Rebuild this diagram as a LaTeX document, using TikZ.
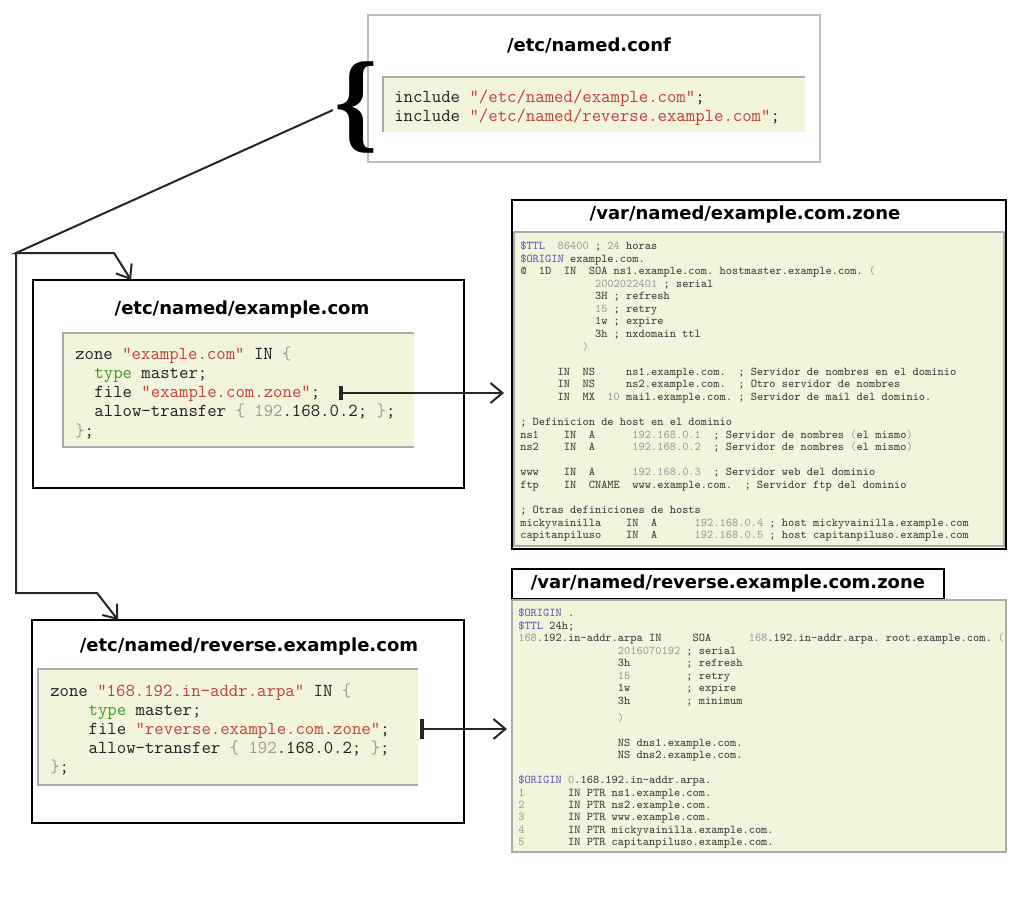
\documentclass[tikz,border=0pt]{standalone}
\usepackage{fontspec}
\newfontfamily\titlefont{DejaVu Sans}
\newfontfamily\bracefont{Liberation Serif}
\usetikzlibrary{arrows.meta}
\definecolor{codebg}{HTML}{F2F4DC}
\definecolor{codeedge}{HTML}{ABABAB}
\definecolor{confgray}{HTML}{BDBDBD}
\definecolor{strred}{HTML}{C23F36}
\definecolor{kwgreen}{HTML}{3C9A28}
\definecolor{numgray}{HTML}{9A9A9A}
\definecolor{varpurple}{HTML}{6656B0}
\definecolor{ztext}{HTML}{3C3C3C}
\definecolor{codeblack}{HTML}{1E1E1E}
\definecolor{linkgray}{HTML}{262626}
\newcommand\Rd[1]{\textcolor{strred}{#1}}
\newcommand\Gn[1]{\textcolor{kwgreen}{#1}}
\newcommand\Gy[1]{\textcolor{numgray}{#1}}
\newcommand\Pu[1]{\textcolor{varpurple}{#1}}
\newcommand\gap[1]{\hspace*{#1\dimexpr0.525em\relax}}
\tikzset{
  title/.style={font=\titlefont\bfseries\fontsize{13.5}{16}\selectfont, inner sep=0, anchor=center},
  bigcode/.style={font=\ttfamily\fontsize{13.7}{16}\selectfont, inner sep=0, anchor=base west, text=codeblack},
  zcode/.style={font=\ttfamily\fontsize{8.9}{10}\selectfont, inner sep=0, anchor=base west, text=ztext},
  blackbox/.style={draw=black, line width=1.1pt, inner sep=0, outer sep=0, anchor=north west},
  confbox/.style={draw=confgray, line width=1.1pt, inner sep=0, outer sep=0, anchor=north west},
  codefill/.style={fill=codebg},
  edge/.style={draw=codeedge, line width=0.8pt},
  link/.style={draw=linkgray, line width=1.5pt, line join=miter},
  tiptoo/.style={-{Straight Barb[length=9pt,width=14pt]}},
}
\begin{document}
\begin{tikzpicture}[x=0.75pt,y=-0.75pt]
\useasboundingbox (0,0) rectangle (1021,906);

% ---------- /etc/named.conf
\node[confbox, minimum width=339pt, minimum height=110.25pt] (conf) at (368,15) {};
\node[title] (conft) at (589,45) {/etc/named.conf};
\fill[codefill] (383,77) rectangle (805,132);
\draw[edge] (805,77) -- (383,77) -- (383,132);
\node[bigcode] (c0) at (394,103) {include~\Rd{"/etc/named/example.com"};};
\node[bigcode] (c1) at (394,122) {include~\Rd{"/etc/named/reverse.example.com"};};
\node[font=\bracefont\bfseries\fontsize{83}{83}\selectfont, inner sep=0] (brace) at (356,108) {\{};

% ---------- /etc/named/example.com
\node[blackbox, minimum width=323.25pt, minimum height=156pt] (ex) at (33,280) {};
\node[title] (ext) at (242,310) {/etc/named/example.com};
\fill[codefill] (63,333) rectangle (414,447);
\draw[edge] (414,333) -- (63,333) -- (63,447) -- (414,447);
\foreach \t [count=\i from 0] in {
  {zone~\Rd{"example.com"}~IN~\Gy{\{}},
  {\gap{2}\Gn{type}~master;},
  {\gap{2}file~\Rd{"example.com.zone"};},
  {\gap{2}allow-transfer~\Gy{\{}~\Gy{192}.168.0.2;~\Gy{\}};},
  {\Gy{\}};}}
  \node[bigcode] (e\i) at (75,{359+19.3*\i}) {\t};

% ---------- /etc/named/reverse.example.com
\node[blackbox, minimum width=324pt, minimum height=152.25pt] (rev) at (32,620) {};
\node[title] (revt) at (249,647) {/etc/named/reverse.example.com};
\fill[codefill] (38,669) rectangle (418,785);
\draw[edge] (418,669) -- (38,669) -- (38,785) -- (418,785);
\foreach \t [count=\i from 0] in {
  {zone~\Rd{"168.192.in-addr.arpa"}~IN~\Gy{\{}},
  {\gap{4}\Gn{type}~master;},
  {\gap{4}file~\Rd{"reverse.example.com.zone"};},
  {\gap{4}allow-transfer~\Gy{\{}~\Gy{192}.168.0.2;~\Gy{\}};},
  {\Gy{\}};}}
  \node[bigcode] (r\i) at (50,{696+19.2*\i}) {\t};

% ---------- /var/named/example.com.zone
\node[blackbox, minimum width=370.5pt, minimum height=261.75pt] (zone) at (512,200) {};
\node[title] (zonet) at (745,215) {/var/named/example.com.zone};
\fill[codefill] (514,232) rectangle (1004,546);
\draw[edge] (514,232) rectangle (1004,546);
\foreach \t [count=\i from 0] in {
  {\Pu{\$TTL}\gap{2}\Gy{86400}~;~\Gy{24}~horas},
  {\Pu{\$ORIGIN}~example.com.},
  {@\gap{2}1D\gap{2}IN\gap{2}SOA~ns1.example.com.~hostmaster.example.com.~\Gy{(}},
  {\gap{12}\Gy{2002022401}~;~serial},
  {\gap{12}3H~;~refresh},
  {\gap{12}\Gy{15}~;~retry},
  {\gap{12}1w~;~expire},
  {\gap{12}3h~;~nxdomain~ttl},
  {\gap{10}\Gy{)}},
  {},
  {\gap{6}IN\gap{2}NS\gap{5}ns1.example.com.\gap{2};~Servidor~de~nombres~en~el~dominio},
  {\gap{6}IN\gap{2}NS\gap{5}ns2.example.com.\gap{2};~Otro~servidor~de~nombres},
  {\gap{6}IN\gap{2}MX\gap{2}\Gy{10}~mail.example.com.~;~Servidor~de~mail~del~dominio.},
  {},
  {;~Definicion~de~host~en~el~dominio},
  {ns1\gap{4}IN\gap{2}A\gap{6}\Gy{192.168.0.1}\gap{2};~Servidor~de~nombres~\Gy{(}el~mismo\Gy{)}},
  {ns2\gap{4}IN\gap{2}A\gap{6}\Gy{192.168.0.2}\gap{2};~Servidor~de~nombres~\Gy{(}el~mismo\Gy{)}},
  {},
  {www\gap{4}IN\gap{2}A\gap{6}\Gy{192.168.0.3}\gap{2};~Servidor~web~del~dominio},
  {ftp\gap{4}IN\gap{2}CNAME\gap{2}www.example.com.\gap{2};~Servidor~ftp~del~dominio},
  {},
  {;~Otras~definiciones~de~hosts},
  {mickyvainilla\gap{4}IN\gap{2}A\gap{6}\Gy{192.168.0.4}~;~host~mickyvainilla.example.com},
  {capitanpiluso\gap{4}IN\gap{2}A\gap{6}\Gy{192.168.0.5}~;~host~capitanpiluso.example.com}}
  \node[zcode] (z\i) at (520,{249.5+12.57*\i}) {\t};

% ---------- /var/named/reverse.example.com.zone
\node[blackbox, minimum width=324pt, minimum height=22.5pt] (rzone) at (512,569) {};
\node[title] (rzonet) at (728,584) {/var/named/reverse.example.com.zone};
\fill[codefill] (512,600) rectangle (1006,852);
\draw[edge] (512,600) rectangle (1006,852);
\foreach \t [count=\i from 0] in {
  {\Pu{\$ORIGIN}~.},
  {\Pu{\$TTL}~24h;},
  {\Gy{168}.192.in-addr.arpa~IN\gap{5}SOA\gap{6}\Gy{168}.192.in-addr.arpa.~root.example.com.~\Gy{(}},
  {\gap{16}\Gy{2016070192}~;~serial},
  {\gap{16}3h\gap{9};~refresh},
  {\gap{16}\Gy{15}\gap{9};~retry},
  {\gap{16}1w\gap{9};~expire},
  {\gap{16}3h\gap{9};~minimum}}
  \node[zcode] (ra\i) at (518,{616.5+12.57*\i}) {\t};
\foreach \t [count=\i from 0] in {
  {\gap{16}\Gy{)}},
  {},
  {\gap{16}NS~dns1.example.com.},
  {\gap{16}NS~dns2.example.com.},
  {},
  {\Pu{\$ORIGIN}~\Gy{0}.168.192.in-addr.arpa.},
  {\Gy{1}\gap{7}IN~PTR~ns1.example.com.},
  {\Gy{2}\gap{7}IN~PTR~ns2.example.com.},
  {\Gy{3}\gap{7}IN~PTR~www.example.com.},
  {\Gy{4}\gap{7}IN~PTR~mickyvainilla.example.com.},
  {\Gy{5}\gap{7}IN~PTR~capitanpiluso.example.com.}}
  \node[zcode] (rb\i) at (518,{721.5+12.43*\i}) {\t};

% ---------- connectors
\coordinate (bs) at (333,110);
\coordinate (j1) at (16,253);
\coordinate (k1) at (114,253);
\coordinate (exin) at (131,280);
\coordinate (j2) at (16,593);
\coordinate (k2) at (97,593);
\coordinate (revin) at (118,620);
\draw[link, tiptoo] (bs) -- (j1) -- (k1) -- (exin);
\draw[link, tiptoo] (j1) -- (j2) -- (k2) -- (revin);

\coordinate (f1) at (339,393);
\coordinate (f1e) at (504,393);
\coordinate (f2) at (420,729);
\coordinate (f2e) at (507,729);
\draw[link, {Bar[width=11pt,line width=0pt 1.8]}-{Straight Barb[length=9pt,width=15pt]}] (f1) -- (f1e);
\draw[link, {Bar[width=15pt,line width=0pt 1.8]}-{Straight Barb[length=9pt,width=15pt]}] (f2) -- (f2e);
\end{tikzpicture}
\end{document}
